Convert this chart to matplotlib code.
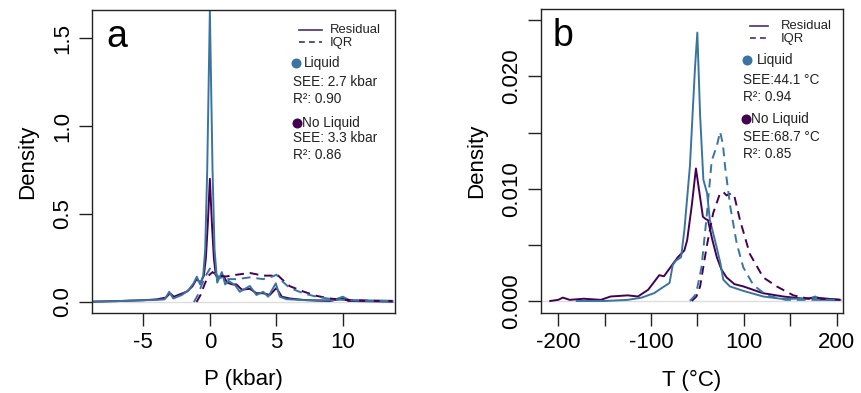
import matplotlib
matplotlib.use("Agg")
import matplotlib.pyplot as plt
from matplotlib.lines import Line2D

plt.rcParams['font.family'] = ['Liberation Sans', 'DejaVu Sans']

# ---------------- Panel a data (P, kbar) ----------------
a_liq_res_x = [-8.7, -7, -6, -5, -4, -3.4, -3.05, -2.75, -2.1, -1.6, -1.22, -0.98, -0.73, -0.5,
               -0.35, -0.2, -0.1, 0, 0.1, 0.2, 0.35, 0.55, 0.9, 1.15, 1.4, 1.9, 2.25, 3.0, 3.5,
               4.0, 4.38, 4.95, 5.25, 5.75, 7.25, 9.25, 9.98, 10.5, 13, 13.7]
a_liq_res_y = [0.003, 0.005, 0.008, 0.01, 0.012, 0.015, 0.058, 0.02, 0.04, 0.068, 0.107, 0.144, 0.1, 0.15,
               0.3, 0.75, 1.2, 1.66, 1.2, 0.75, 0.3, 0.11, 0.17, 0.10, 0.12, 0.095, 0.058, 0.091, 0.04,
               0.058, 0.03, 0.106, 0.03, 0.016, 0.01, 0.01, 0.03, 0.01, 0.008, 0.007]

a_noliq_res_x = [-8.7, -7, -5, -4, -3.3, -3.0, -2.7, -2.2, -1.7, -1.3, -1.0, -0.7, -0.45, -0.3, -0.15,
                 0, 0.15, 0.3, 0.45, 0.7, 1.0, 1.3, 1.7, 2.0, 2.4, 3.0, 3.5, 4.0, 4.5, 5.0, 5.4,
                 6, 7, 8, 9, 10, 10.4, 12, 13.7]
a_noliq_res_y = [0.002, 0.005, 0.01, 0.015, 0.025, 0.05, 0.03, 0.045, 0.06, 0.09, 0.13, 0.11, 0.15, 0.25, 0.45,
                 0.70, 0.45, 0.25, 0.15, 0.14, 0.15, 0.11, 0.1, 0.1, 0.07, 0.075, 0.05, 0.05, 0.04, 0.08, 0.03,
                 0.02, 0.012, 0.008, 0.006, 0.02, 0.006, 0.004, 0.002]

a_liq_iqr_x = [-1.2, -0.9, -0.6, -0.3, 0, 0.3, 0.7, 1.2, 2, 3, 4, 4.7, 5.0, 5.4, 6, 7, 8, 9, 10, 11, 12, 13.7]
a_liq_iqr_y = [0, 0.04, 0.10, 0.15, 0.19, 0.17, 0.14, 0.13, 0.13, 0.14, 0.13, 0.145, 0.155, 0.12, 0.08,
               0.05, 0.03, 0.018, 0.012, 0.009, 0.006, 0.005]

a_noliq_iqr_x = [-1.0, -0.7, -0.4, -0.1, 0.2, 0.6, 1.2, 2, 3, 4, 4.7, 5.0, 5.4, 6, 7, 8, 9, 10, 11, 12, 13.7]
a_noliq_iqr_y = [0, 0.04, 0.10, 0.15, 0.17, 0.15, 0.145, 0.155, 0.165, 0.15, 0.15, 0.16, 0.13, 0.09,
                 0.06, 0.035, 0.02, 0.013, 0.01, 0.007, 0.005]

# ---------------- Panel b data (T) ----------------
b_liq_res_x = [-260, -200, -150, -120, -93, -75, -60, -53, -46, -35, -28, -16, -5, 0, 6, 13, 21, 27,
               38, 45, 50, 56, 70, 99, 142, 180, 240, 254, 265, 308]
b_liq_res_y = [0, 0, 0.0001, 0.0003, 0.0007, 0.0012, 0.0016, 0.0032, 0.0036, 0.0039, 0.0063, 0.012,
               0.0208, 0.0239, 0.0165, 0.0108, 0.0096, 0.0072, 0.0054, 0.0042, 0.0033, 0.0019, 0.0013,
               0.0009, 0.0004, 0.0002, 0.0002, 0.0004, 0.0001, 0.0001]

b_noliq_res_x = [-317, -300, -290, -275, -245, -208, -187, -150, -128, -106, -82, -72, -58, -42, -28,
                 -22, -12, -3, 5, 12, 18, 23, 32, 42, 52, 63, 80, 99, 113, 141, 185, 230, 254, 308]
b_noliq_res_y = [0, 0.0001, 0.0003, 0.0001, 0.0002, 0.0001, 0.0004, 0.0005, 0.0004, 0.001, 0.0023,
                 0.0022, 0.003, 0.0039, 0.0045, 0.0054, 0.0085, 0.0118, 0.0095, 0.0075, 0.0073, 0.0072,
                 0.0055, 0.0039, 0.0028, 0.0021, 0.0015, 0.0013, 0.0011, 0.0007, 0.0004, 0.0002,
                 0.0003, 0.0001]

b_liq_iqr_x = [-16, -5, 0, 9, 20, 31, 42, 49, 55, 60, 71, 85, 99, 121, 150, 190, 250, 308]
b_liq_iqr_y = [0, 0.0005, 0.0012, 0.003, 0.0075, 0.0125, 0.0138, 0.01506, 0.014, 0.0119, 0.0084,
               0.0051, 0.003, 0.0014, 0.0005, 0.0001, 0.0001, 0.0001]

b_noliq_iqr_x = [-12, -2, 6, 20, 34, 49, 56, 63, 74, 80, 92, 113, 142, 171, 207, 240, 254, 265, 308]
b_noliq_iqr_y = [0, 0.0004, 0.0013, 0.0048, 0.0078, 0.0096, 0.0097, 0.0094, 0.0096, 0.0093, 0.0072,
                 0.0042, 0.0021, 0.0013, 0.0005, 0.0002, 0.0004, 0.0002, 0.0001]

a_xticks = [-5, 0, 5, 10]
a_xticklabels = ['-5', '0', '5', '10']
a_yticks = [0.0, 0.5, 1.0, 1.5]
a_yticklabels = ['0.0', '0.5', '1.0', '1.5']
b_xticks = [-300, -200, -100, 0, 100, 200, 300]
b_xticklabels = ['-200', '', '-100', '', '100', '', '200']
b_yticks = [0.0, 0.005, 0.010, 0.015, 0.020, 0.025]
b_yticklabels = ['0.000', '', '0.010', '', '0.020', '']

a_stats = ['SEE: 2.7 kbar', 'R²: 0.90', 'SEE: 3.3 kbar', 'R²: 0.86']
b_stats = ['SEE:44.1 °C', 'R²: 0.94', 'SEE:68.7 °C', 'R²: 0.85']

C_LIQ = '#3A74A0'
C_NOLIQ = '#440154'
C_LEG = '#4b2c6b'
DASH = (0, (4.5, 3))

W, H = 862, 393
fig = plt.figure(figsize=(W / 100, H / 100), dpi=100)


def make_ax(left, right, top, bottom):
    return fig.add_axes([left / W, (H - bottom) / H, (right - left) / W, (bottom - top) / H])


ax_a = make_ax(92, 395, 10, 313)
ax_b = make_ax(541, 843, 9, 313)

TICKFS = 16


def style(ax):
    for s in ax.spines.values():
        s.set_color('#222222')
        s.set_linewidth(1.0)
    ax.tick_params(axis='both', direction='out', length=9.5, width=1.0, color='#222222',
                   labelsize=TICKFS)
    ax.tick_params(axis='x', pad=4)
    ax.tick_params(axis='y', pad=4)
    ax.axhline(0, color='#DDDDDD', lw=1.0, zorder=0)


# Panel a
ax = ax_a
ax.plot(a_noliq_res_x, a_noliq_res_y, color=C_NOLIQ, lw=1.4)
ax.plot(a_liq_res_x, a_liq_res_y, color=C_LIQ, lw=1.4)
ax.plot(a_noliq_iqr_x, a_noliq_iqr_y, color=C_NOLIQ, lw=1.4, ls=DASH)
ax.plot(a_liq_iqr_x, a_liq_iqr_y, color=C_LIQ, lw=1.4, ls=DASH)
ax.set_xlim(-8.85, 13.9)
ax.set_ylim(-0.0625, 1.66)
ax.set_xticks(a_xticks)
ax.set_xticklabels(a_xticklabels)
ax.set_yticks(a_yticks)
ax.set_yticklabels(a_yticklabels, rotation=90, va='center')
style(ax)
ax.set_xlabel('P (kbar)', fontsize=16, labelpad=12)
ax.set_ylabel('Density', fontsize=16, labelpad=10)

# Panel b
ax = ax_b
ax.plot(b_noliq_res_x, b_noliq_res_y, color=C_NOLIQ, lw=1.4)
ax.plot(b_liq_res_x, b_liq_res_y, color=C_LIQ, lw=1.4)
ax.plot(b_noliq_iqr_x, b_noliq_iqr_y, color=C_NOLIQ, lw=1.4, ls=DASH)
ax.plot(b_liq_iqr_x, b_liq_iqr_y, color=C_LIQ, lw=1.4, ls=DASH)
ax.set_xlim(-337, 314)
ax.set_ylim(-0.00107, 0.026)
ax.set_xticks(b_xticks)
ax.set_xticklabels(b_xticklabels)
ax.set_yticks(b_yticks)
ax.set_yticklabels(b_yticklabels, rotation=90, va='center')
style(ax)
ax.set_xlabel('T (°C)', fontsize=16, labelpad=12)
ax.set_ylabel('Density', fontsize=16, labelpad=10)


# annotations in pixel coordinates
def fig_xy(px, py):
    return px / W, (H - py) / H


def annotate(letter, lx, ly, line_x0, line_x1, text_x, y_res, y_iqr,
             dot_x1, y_liq, txt_x1, stat_x, ys, dot_x2, y_noliq, txt_x2, stats):
    fs = 9.8
    fig.text(*fig_xy(lx, ly), letter, fontsize=27, ha='left', va='baseline')
    fig.add_artist(Line2D([line_x0 / W, line_x1 / W], [(H - y_res) / H] * 2, color=C_LEG, lw=1.2))
    fig.add_artist(Line2D([line_x0 / W, line_x1 / W], [(H - y_iqr) / H] * 2, color=C_LEG, lw=1.2,
                          ls=(0, (3.5, 2.5))))
    fig.text(*fig_xy(text_x, y_res), 'Residual', fontsize=9.4, ha='left', va='center', color='#222222')
    fig.text(*fig_xy(text_x, y_iqr + 1), 'IQR', fontsize=9.4, ha='left', va='center', color='#222222')
    fig.add_artist(Line2D([dot_x1 / W], [(H - y_liq) / H], marker='o', ms=6.2, color=C_LIQ, lw=0))
    fig.text(*fig_xy(txt_x1, y_liq), 'Liquid', fontsize=fs, ha='left', va='center', color='#222222')
    fig.text(*fig_xy(stat_x, ys[0]), stats[0], fontsize=fs, ha='left', va='center', color='#222222')
    fig.text(*fig_xy(stat_x, ys[1]), stats[1], fontsize=fs, ha='left', va='center', color='#222222')
    fig.add_artist(Line2D([dot_x2 / W], [(H - y_noliq) / H], marker='o', ms=6.2, color=C_NOLIQ, lw=0))
    fig.text(*fig_xy(txt_x2, y_noliq), 'No Liquid', fontsize=fs, ha='left', va='center', color='#222222')
    fig.text(*fig_xy(stat_x, ys[2]), stats[2], fontsize=fs, ha='left', va='center', color='#222222')
    fig.text(*fig_xy(stat_x, ys[3]), stats[3], fontsize=fs, ha='left', va='center', color='#222222')


annotate('a', 106, 47, 299, 322, 330, 30, 42,
         296, 63, 304, 293, [82, 99, 138, 155], 297, 123, 302, a_stats)
annotate('b', 553, 46, 750, 768, 781, 26, 38,
         747, 60, 757, 743, [80, 97, 137, 154], 746, 119, 751, b_stats)

fig.savefig('out.png', dpi=100)
